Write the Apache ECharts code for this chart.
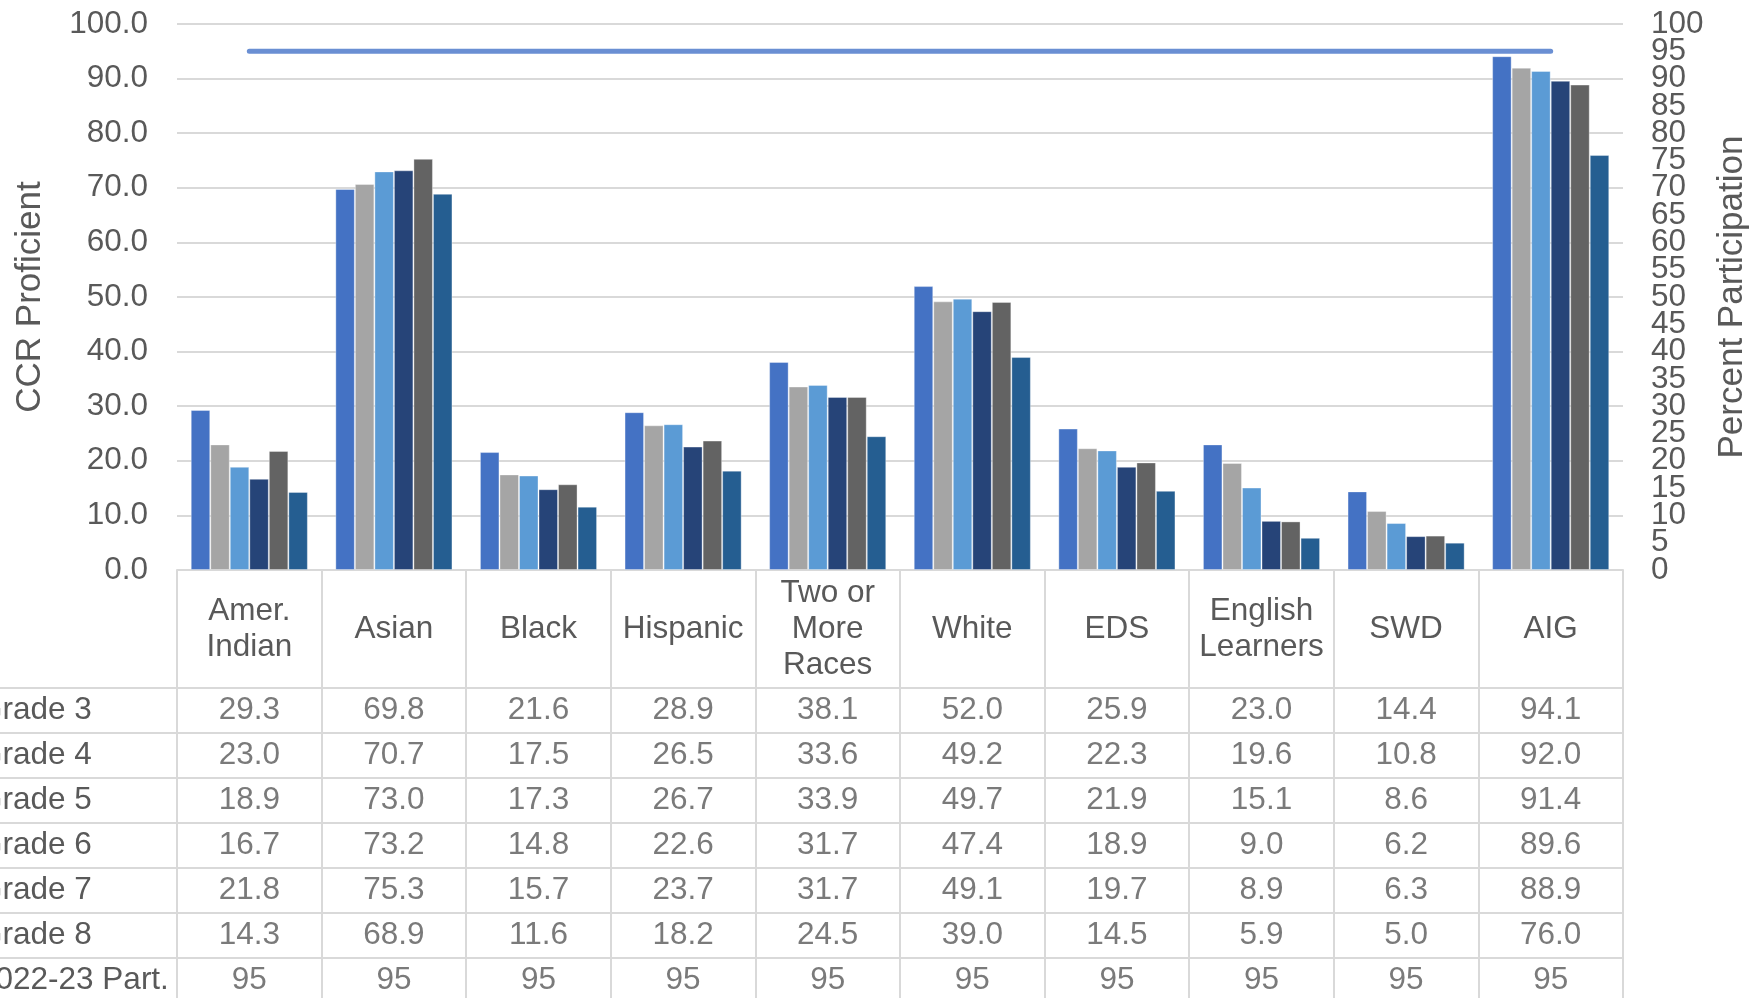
<!DOCTYPE html>
<html>
<head>
<meta charset="utf-8">
<script src="https://cdn.jsdelivr.net/npm/echarts@6/dist/echarts.min.js"></script>
<style>
  html, body { margin: 0; padding: 0; background: #fff; }
  #container { width: 1761px; height: 998px; }
</style>
</head>
<body>
<div id="container"></div>
<script>
var categories = ['Amer.\nIndian', 'Asian', 'Black', 'Hispanic', 'Two or\nMore\nRaces', 'White', 'EDS', 'English\nLearners', 'SWD', 'AIG'];
var grade3 = [29.3, 69.8, 21.6, 28.9, 38.1, 52.0, 25.9, 23.0, 14.4, 94.1];
var grade4 = [23.0, 70.7, 17.5, 26.5, 33.6, 49.2, 22.3, 19.6, 10.8, 92.0];
var grade5 = [18.9, 73.0, 17.3, 26.7, 33.9, 49.7, 21.9, 15.1, 8.6, 91.4];
var grade6 = [16.7, 73.2, 14.8, 22.6, 31.7, 47.4, 18.9, 9.0, 6.2, 89.6];
var grade7 = [21.8, 75.3, 15.7, 23.7, 31.7, 49.1, 19.7, 8.9, 6.3, 88.9];
var grade8 = [14.3, 68.9, 11.6, 18.2, 24.5, 39.0, 14.5, 5.9, 5.0, 76.0];
var participation = [95, 95, 95, 95, 95, 95, 95, 95, 95, 95];
var rowNames = ['Grade 3', 'Grade 4', 'Grade 5', 'Grade 6', 'Grade 7', 'Grade 8', '2022-23 Part.'];

var dom = document.getElementById("container");
var myChart = echarts.init(dom);
var option = null;

var font = '"Liberation Sans", Arial, sans-serif';
var textColor = '#595959';
var lineColor = '#d9d9d9';
var fs = 31.5;      // labels and table text
var titleFs = 35;   // axis titles
var colors = ['#4472c4', '#a5a5a5', '#5b9bd5', '#264478', '#636363', '#255e91'];
var grades = [grade3, grade4, grade5, grade6, grade7, grade8];

// table cells: [column, row, value]
var rows = grades.concat([participation]);
var cells = [];
rows.forEach(function (arr, r) {
    arr.forEach(function (v, c) {
        cells.push([c, r, v]);
    });
});

var barSeries = grades.map(function (arr, i) {
    return {
        name: rowNames[i],
        type: 'bar',
        xAxisIndex: 0,
        yAxisIndex: 0,
        barGap: '0%',
        barCategoryGap: '19%',
        itemStyle: {
            color: colors[i],
            borderColor: 'rgba(255,255,255,0.35)',
            borderWidth: 1
        },
        data: arr
    };
});

var rightLabel = {
    margin: 28,
    color: textColor,
    fontSize: fs,
    fontFamily: font
};

option = {
    animation: false,
    textStyle: { fontFamily: font },
    grid: [
        { left: 177, right: 138, top: 24, bottom: 428, containLabel: false, outerBoundsMode: 'none' },
        { left: 177, right: 138, top: 688, height: 315, containLabel: false, outerBoundsMode: 'none' }
    ],
    xAxis: [
        {
            type: 'category',
            gridIndex: 0,
            data: categories,
            axisLine: { lineStyle: { color: lineColor, width: 2 } },
            axisTick: { show: true, length: 118, lineStyle: { color: lineColor, width: 2 } },
            axisLabel: {
                interval: 0,
                margin: 59,
                verticalAlign: 'middle',
                color: textColor,
                fontSize: fs,
                lineHeight: 36,
                fontFamily: font
            }
        },
        {
            type: 'category',
            gridIndex: 1,
            data: categories,
            axisLine: { show: false },
            axisTick: { show: false },
            axisLabel: { show: false },
            splitLine: { show: true, interval: 0, lineStyle: { color: lineColor, width: 2 } }
        }
    ],
    yAxis: [
        {
            type: 'value',
            gridIndex: 0,
            min: 0,
            max: 100,
            interval: 10,
            name: 'CCR Proficient',
            nameLocation: 'middle',
            nameGap: 129,
            nameTextStyle: { color: textColor, fontSize: titleFs, fontFamily: font },
            axisLine: { show: false },
            axisTick: { show: false },
            axisLabel: {
                margin: 29,
                color: textColor,
                fontSize: fs,
                fontFamily: font,
                showMinLabel: true,
                showMaxLabel: true,
                formatter: function (v) { return v.toFixed(1); }
            },
            splitLine: { lineStyle: { color: lineColor, width: 2 } }
        },
        {
            // participation axis: 5 .. 95 labels
            type: 'value',
            gridIndex: 0,
            position: 'right',
            min: 0,
            max: 100,
            interval: 5,
            name: 'Percent Participation',
            nameLocation: 'middle',
            nameGap: 92,
            nameRotate: 90,
            nameTextStyle: { color: textColor, fontSize: titleFs, fontFamily: font },
            axisLine: { show: false },
            axisTick: { show: false },
            axisLabel: Object.assign({ showMinLabel: false, showMaxLabel: false }, rightLabel),
            splitLine: { show: false }
        },
        {
            type: 'category',
            gridIndex: 1,
            inverse: true,
            data: rowNames,
            axisLine: { show: true, lineStyle: { color: lineColor, width: 2 } },
            axisTick: { show: true, length: 180, lineStyle: { color: lineColor, width: 2 } },
            axisLabel: {
                interval: 0,
                align: 'left',
                margin: 199,
                color: textColor,
                fontSize: fs,
                fontFamily: font
            },
            splitLine: { show: true, interval: 0, lineStyle: { color: lineColor, width: 2 } }
        },
        {
            // participation axis: the 0 and 100 end labels
            type: 'value',
            gridIndex: 0,
            position: 'right',
            min: 0,
            max: 100,
            interval: 100,
            axisLine: { show: false },
            axisTick: { show: false },
            axisLabel: Object.assign({ showMinLabel: true, showMaxLabel: true }, rightLabel),
            splitLine: { show: false }
        }
    ],
    series: barSeries.concat([
        {
            name: '2022-23 Part.',
            type: 'line',
            xAxisIndex: 0,
            yAxisIndex: 1,
            symbol: 'none',
            lineStyle: { color: '#6a8fd3', width: 5, cap: 'round' },
            data: participation
        },
        {
            name: 'table',
            type: 'scatter',
            xAxisIndex: 1,
            yAxisIndex: 2,
            silent: true,
            symbol: 'rect',
            symbolSize: 1,
            itemStyle: { color: 'rgba(0,0,0,0)' },
            label: {
                show: true,
                position: 'inside',
                color: textColor,
                fontSize: fs,
                fontFamily: font,
                formatter: function (p) {
                    return p.value[1] === rowNames.length - 1 ? String(p.value[2]) : p.value[2].toFixed(1);
                }
            },
            data: cells
        }
    ])
};

if (option && typeof option === "object") {
    myChart.setOption(option, true);
}
</script>
</body>
</html>
